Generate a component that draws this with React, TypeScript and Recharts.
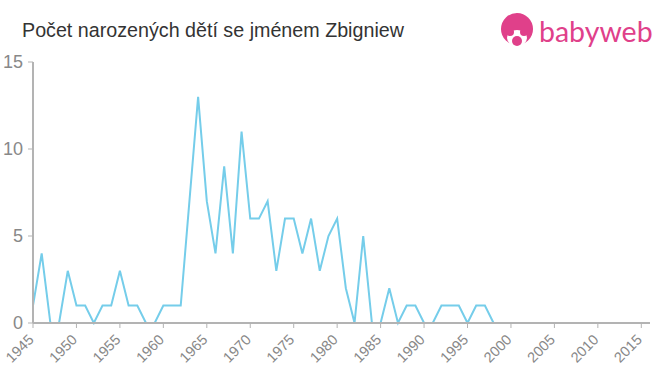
import React from 'react';
import { LineChart, Line, XAxis, YAxis } from 'recharts';

const years: number[] = [];
for (let y = 1945; y <= 2016; y++) years.push(y);

const counts: number[] = [
  1, 4, 0, 0, 3, 1, 1, 0, 1, 1, // 1945-1954
  3, 1, 1, 0, 0, 1, 1, 1, 7, 13, // 1955-1964
  7, 4, 9, 4, 11, 6, 6, 7, 3, 6, // 1965-1974
  6, 4, 6, 3, 5, 6, 2, 0, 5, 0, // 1975-1984
  0, 2, 0, 1, 1, 0, 0, 1, 1, 1, // 1985-1994
  0, 1, 1, 0, 0, 0, 0, 0, 0, 0, // 1995-2004
  0, 0, 0, 0, 0, 0, 0, 0, 0, 0, // 2005-2014
  0, 0, // 2015-2016
];

const xTicks = [1945, 1950, 1955, 1960, 1965, 1970, 1975, 1980, 1985, 1990, 1995, 2000, 2005, 2010, 2015];
const yTicks = [0, 5, 10, 15];

const data = years.map((year, i) => ({ year, value: counts[i] }));

const FONT = 'Liberation Sans, Arial, sans-serif';

const XTick = (props: any) => {
  const { x, y, payload } = props;
  return (
    <g transform={`translate(${x - 2},${y + 9})`}>
      <text
        x={0}
        y={0}
        dy="0.35em"
        textAnchor="end"
        transform="rotate(-45)"
        fill="#888"
        fontSize={14.5}
        fontFamily={FONT}
      >
        {payload.value}
      </text>
    </g>
  );
};

export default function App() {
  return (
    <div style={{ position: 'absolute', left: 0, top: 0, width: 660, height: 375, background: '#fff' }}>
      <div
        style={{
          position: 'absolute',
          left: 22,
          top: 19,
          fontFamily: FONT,
          fontSize: 19.7,
          color: '#333',
          whiteSpace: 'nowrap',
        }}
      >
        Počet narozených dětí se jménem Zbigniew
      </div>
      <svg style={{ position: 'absolute', left: 495, top: 5 }} width={165} height={50}>
        <circle cx={22} cy={24} r={16} fill="#e0408a" />
        <ellipse cx={22} cy={33} rx={10} ry={8} fill="#fff" />
        <circle cx={15} cy={27} r={4} fill="#e0408a" />
        <circle cx={29} cy={27} r={4} fill="#e0408a" />
        <circle cx={22} cy={36} r={5} fill="#e0408a" />
        <text x={44} y={37} fontFamily="Lato, Arial, sans-serif" fontSize={28.5} fill="#e0408a">
          babyweb
        </text>
      </svg>
      <LineChart
        width={660}
        height={375}
        data={data}
        margin={{ top: 62, right: 10, bottom: 0, left: 0 }}
        style={{ position: 'absolute', left: 0, top: 0 }}
      >
        <XAxis
          dataKey="year"
          type="number"
          domain={[1945, 2016]}
          ticks={xTicks}
          interval={0}
          height={52}
          stroke="#b3b3b3"
          tickSize={5}
          tickMargin={0}
          tick={<XTick />}
          axisLine={{ stroke: '#b3b3b3', strokeWidth: 2 }}
          tickLine={{ stroke: '#b3b3b3' }}
        />
        <YAxis
          domain={[0, 15]}
          ticks={yTicks}
          width={33}
          tickSize={5}
          tickMargin={5}
          interval={0}
          tick={{ fill: '#888', fontSize: 18, fontFamily: FONT }}
          axisLine={{ stroke: '#b3b3b3', strokeWidth: 2 }}
          tickLine={{ stroke: '#b3b3b3' }}
        />
        <Line
          type="linear"
          dataKey="value"
          stroke="#75cdea"
          strokeWidth={2}
          dot={false}
          isAnimationActive={false}
        />
      </LineChart>
    </div>
  );
}
